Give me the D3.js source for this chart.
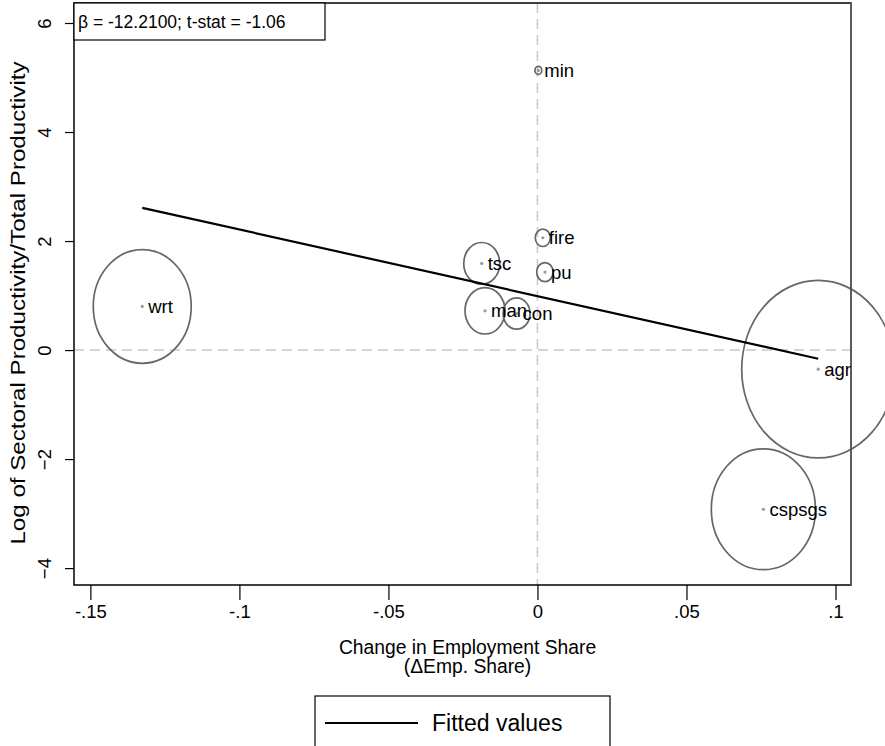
<!DOCTYPE html>
<html><head><meta charset="utf-8">
<script src="https://cdn.jsdelivr.net/npm/d3@7"></script>
<style>body{margin:0;background:#fff}svg{display:block;font-family:"Liberation Sans",Arial,sans-serif}</style>
</head><body><svg id="c" width="885" height="746"></svg>
<script>
const sectors = ["agr","min","man","pu","con","wrt","tsc","fire","cspsgs"];
const dEmpShare = [0.0942, 0.0003, -0.0176, 0.0025, -0.0070, -0.1326, -0.0187, 0.0018, 0.0758];
const logRelProd = [-0.35, 5.13, 0.72, 1.43, 0.67, 0.80, 1.59, 2.06, -2.92];
const weights = [0.300, 0.0006, 0.0205, 0.0035, 0.0093, 0.123, 0.0166, 0.0029, 0.139];
const xTicks = [-0.15, -0.1, -0.05, 0, 0.05, 0.1];
const xTickLabels = ["-.15", "-.1", "-.05", "0", ".05", ".1"];
const yTicks = [-4, -2, 0, 2, 4, 6];
const beta = -12.21, intercept = 0.99, tstat = -1.06;

const svg = d3.select("#c");
const L = 74, R = 851, T = 3, B = 585;
const x = d3.scaleLinear().domain([-0.1555, 0.1052]).range([L, R]);
const y = d3.scaleLinear().domain([-4.31, 6.367]).range([B, T]);
const r = d3.scaleSqrt().domain([0, 0.3]).range([0, 76.5]);
const aspect = 1.16;
const data = sectors.map((s, i) => ({s, x: dEmpShare[i], y: logRelProd[i], w: weights[i]}));

// reference lines
svg.append("line").attr("x1", L).attr("x2", R).attr("y1", y(0)).attr("y2", y(0))
  .attr("stroke", "#c8c8c8").attr("stroke-width", 1.5).attr("stroke-dasharray", "10,6");
svg.append("line").attr("x1", x(0)).attr("x2", x(0)).attr("y1", T).attr("y2", B)
  .attr("stroke", "#c8c8c8").attr("stroke-width", 1.5).attr("stroke-dasharray", "10,6");

// bubbles
svg.append("g").selectAll("ellipse").data(data).join("ellipse")
  .attr("cx", d => x(d.x)).attr("cy", d => y(d.y))
  .attr("rx", d => r(d.w)).attr("ry", d => r(d.w) * aspect)
  .attr("fill", "none").attr("stroke", "#666").attr("stroke-width", 1.7);
svg.append("g").selectAll("circle").data(data).join("circle")
  .attr("cx", d => x(d.x)).attr("cy", d => y(d.y)).attr("r", 1.6).attr("fill", "#999");

// fitted line
const xs = d3.extent(dEmpShare);
svg.append("line").attr("x1", x(xs[0])).attr("x2", x(xs[1]))
  .attr("y1", y(intercept + beta * xs[0])).attr("y2", y(intercept + beta * xs[1]))
  .attr("stroke", "#000").attr("stroke-width", 2.2);

// frame
svg.append("rect").attr("x", L).attr("y", T).attr("width", R - L).attr("height", B - T)
  .attr("fill", "none").attr("stroke", "#000").attr("stroke-width", 1.5);
svg.append("line").attr("x1", R).attr("x2", R).attr("y1", T).attr("y2", B).attr("stroke", "#666").attr("stroke-width", 1.5);

// labels
svg.append("g").selectAll("text").data(data).join("text")
  .attr("x", d => x(d.x) + 6).attr("y", d => y(d.y)).attr("dy", "0.36em")
  .attr("font-size", 18.5).attr("fill", "#000").text(d => d.s);

// axes
const xAxis = d3.axisBottom(x).tickValues(xTicks).tickFormat((d, i) => xTickLabels[i]).tickSize(15).tickSizeOuter(0).tickPadding(5);
const gx = svg.append("g").attr("transform", `translate(0,${B})`).call(xAxis);
gx.select(".domain").remove();
gx.selectAll("line").attr("stroke", "#000").attr("stroke-width", 1.2);
gx.selectAll("text").attr("font-size", 18.5).attr("fill", "#000").attr("font-family", "Liberation Sans, Arial, sans-serif");

const yAxis = d3.axisLeft(y).tickValues(yTicks).tickSize(9).tickSizeOuter(0).tickPadding(0).tickFormat(d3.format("d"));
const gy = svg.append("g").attr("transform", `translate(${L},0)`).call(yAxis);
gy.select(".domain").remove();
gy.selectAll("line").attr("stroke", "#000").attr("stroke-width", 1.2);
gy.selectAll("text").attr("font-size", 18.5).attr("fill", "#000").attr("font-family", "Liberation Sans, Arial, sans-serif")
  .attr("x", 0).attr("dy", 0).attr("text-anchor", "middle")
  .attr("transform", "translate(-23,0) rotate(-90)");

// axis titles
const yc = 303;
svg.append("text").attr("transform", `translate(18,${yc}) rotate(-90) scale(1.22,1)`)
  .attr("text-anchor", "middle").attr("dy", "0.35em").attr("font-size", 19.8).text("Log of Sectoral Productivity/Total Productivity");
svg.append("text").attr("x", (L + R) / 2 + 5).attr("y", 654).attr("text-anchor", "middle").attr("font-size", 19.3)
  .text("Change in Employment Share");
svg.append("text").attr("x", (L + R) / 2 + 5).attr("y", 673).attr("text-anchor", "middle").attr("font-size", 19.3)
  .text("(\u0394Emp. Share)");

// stat box
svg.append("rect").attr("x", L).attr("y", T).attr("width", 251).attr("height", 37).attr("fill", "#fff").attr("stroke", "#000").attr("stroke-width", 1.2);
svg.append("text").attr("x", L + 4).attr("y", 28).attr("font-size", 17.5)
  .text(`\u03b2 = ${beta.toFixed(4)}; t-stat = ${tstat.toFixed(2)}`);

// legend
svg.append("rect").attr("x", 315).attr("y", 696).attr("width", 295).attr("height", 60).attr("fill", "none").attr("stroke", "#000").attr("stroke-width", 1.2);
svg.append("line").attr("x1", 325).attr("x2", 418).attr("y1", 723).attr("y2", 723).attr("stroke", "#000").attr("stroke-width", 2);
svg.append("text").attr("x", 432).attr("y", 731).attr("font-size", 23).text("Fitted values");
</script></body></html>
